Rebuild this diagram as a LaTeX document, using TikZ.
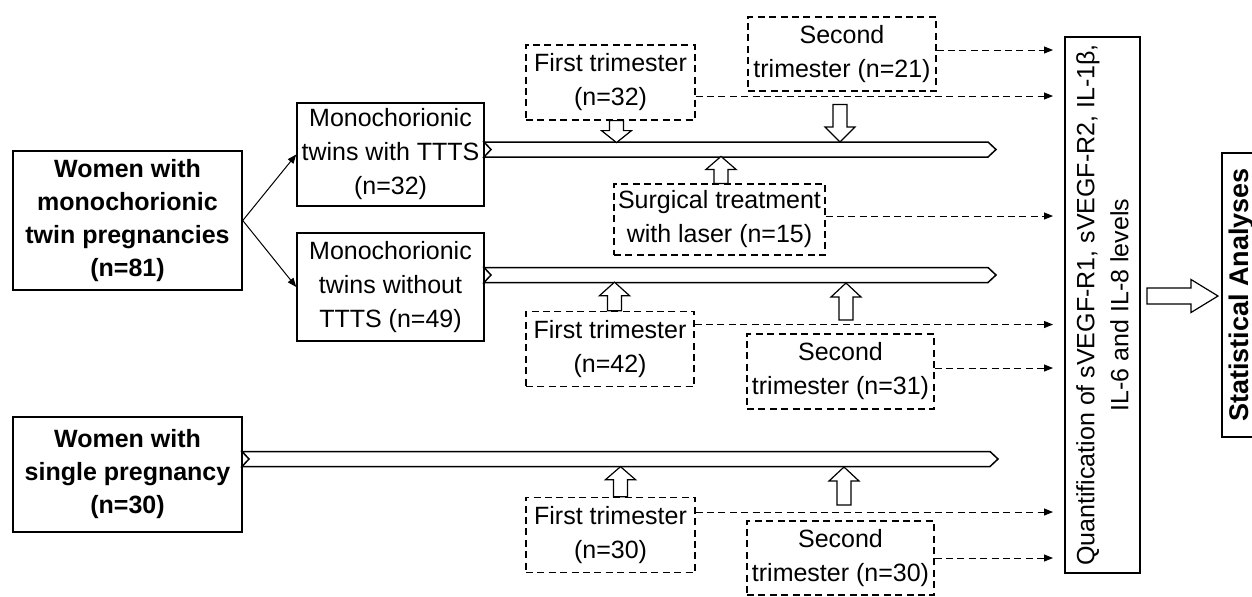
\documentclass[tikz,border=0pt]{standalone}
\usepackage{fontspec}
\setmainfont{Liberation Sans}
\usetikzlibrary{arrows.meta}

\tikzset{
  base/.style={align=center, inner sep=0pt, font=\fontsize{12.5}{17}\selectfont},
  group/.style={base, draw, line width=0.75pt},
  maingroup/.style={group, font=\fontsize{12.5}{16.5}\selectfont\bfseries},
  sample/.style={base, draw, line width=0.6pt, dash pattern=on 3.5pt off 2.2pt},
  link/.style={line width=0.5pt, -{Triangle[length=4.5pt,width=3.5pt]}},
  dashlink/.style={link, dash pattern=on 3.5pt off 2.2pt},
  barline/.style={line width=0.75pt, fill=white},
  blockline/.style={line width=0.6pt, fill=white},
  pics/hollow/.style args={#1/#2/#3/#4}{code={
    \draw[blockline] (0,-#3) -- ({#1-#2},-#3) -- ({#1-#2},-#4) -- (#1,0)
      -- ({#1-#2},#4) -- ({#1-#2},#3) -- (0,#3) -- cycle;}}
}

% timeline bar: left x, tip x, centre y
\newcommand{\timebar}[3]{%
  \draw[barline] (#1,{#3-7.5}) -- ({#2-8},{#3-7.5}) -- (#2,#3)
    -- ({#2-8},{#3+7.5}) -- (#1,{#3+7.5}) -- ({#1+7},#3) -- cycle;}

\begin{document}
\begin{tikzpicture}[x=0.5pt, y=-0.5pt]
  \useasboundingbox (0,0) rectangle (1252,596);
  \clip (0,0) rectangle (1252,596);

  % groups
  \node[maingroup, minimum width=114.5pt, minimum height=69.5pt] (twins) at (127.5,220.5)
    {Women with\\monochorionic\\twin pregnancies\\(n=81)};
  \node[group, minimum width=93.5pt, minimum height=51.5pt] (ttts) at (390.5,154.5)
    {Monochorionic\\twins with TTTS\\(n=32)};
  \node[group, minimum width=93.5pt, minimum height=54pt] (nottts) at (390.5,287)
    {Monochorionic\\twins without\\TTTS (n=49)};
  \node[maingroup, minimum width=114.5pt, minimum height=57.5pt] (single) at (127.5,474.5)
    {Women with\\single pregnancy\\(n=30)};

  \draw[link] (twins.east) -- (ttts.west);
  \draw[link] (twins.east) -- (nottts.west);

  % timelines
  \timebar{484}{996}{149.5}
  \timebar{484}{996}{275}
  \timebar{242}{998}{459}

  % samples
  \node[sample, minimum width=84.5pt, minimum height=37.5pt] (tttsfirst) at (610.5,82.5)
    {First trimester\\(n=32)};
  \node[sample, minimum width=94pt, minimum height=37pt] (tttssecond) at (842,54)
    {Second\\trimester (n=21)};
  \node[sample, minimum width=105.5pt, minimum height=35.5pt] (laser) at (719.5,219.5)
    {Surgical treatment\\with laser (n=15)};
  \node[sample, minimum width=84pt, minimum height=37.75pt] (nofirst) at (610,349)
    {First trimester\\(n=42)};
  \node[sample, minimum width=93.5pt, minimum height=37.5pt] (nosecond) at (840.5,371.5)
    {Second\\trimester (n=31)};
  \node[sample, minimum width=84.5pt, minimum height=37.75pt] (singlefirst) at (610.5,535)
    {First trimester\\(n=30)};
  \node[sample, minimum width=93.5pt, minimum height=37pt] (singlesecond) at (840.5,558)
    {Second\\trimester (n=30)};

  % block arrows onto the timelines
  \pic[rotate=-90] at ([xshift=3pt]tttsfirst.south) {hollow=22/12/7/15};
  \pic[rotate=-90] at (840,104.5) {hollow=37.5/15/7/15};
  \pic[rotate=90] at ([xshift=0.75pt]laser.north) {hollow=27/13/7/15};
  \pic[rotate=90] at ([xshift=2.25pt]nofirst.north) {hollow=28.5/13.5/7/15};
  \pic[rotate=90] at (846,320) {hollow=37/14/7/15};
  \pic[rotate=90] at ([xshift=5pt]singlefirst.north) {hollow=30/13/7/15};
  \pic[rotate=90] at (844,505) {hollow=38/14/7/15};

  % quantification and analyses
  \node[group, rotate=90, minimum width=268pt, minimum height=37.5pt] (quant) at (1102.5,305)
    {Quantification of sVEGF-R1, sVEGF-R2, IL-1β,\\IL-6 and IL-8 levels};
  \node[maingroup, font=\fontsize{13.5}{16.5}\selectfont\bfseries, rotate=90,
    minimum width=142pt, minimum height=20pt] (stats) at (1242,295) {Statistical Analyses};
  \pic at (1147,296) {hollow=71/27/8/16.5};

  % samples to quantification
  \coordinate (q1) at (1053,50);
  \coordinate (q2) at (1053,96);
  \coordinate (q3) at (1053,216);
  \coordinate (q4) at (1053,324.5);
  \coordinate (q5) at (1053,368);
  \coordinate (q6) at (1053,512);
  \coordinate (q7) at (1053,558);
  \draw[dashlink] (tttssecond.east |- q1) -- (q1);
  \draw[dashlink] (tttsfirst.east |- q2) -- (q2);
  \draw[dashlink] (laser.east |- q3) -- (q3);
  \draw[dashlink] (nofirst.east |- q4) -- (q4);
  \draw[dashlink] (nosecond.east |- q5) -- (q5);
  \draw[dashlink] (singlefirst.east |- q6) -- (q6);
  \draw[dashlink] (singlesecond.east |- q7) -- (q7);
\end{tikzpicture}
\end{document}
